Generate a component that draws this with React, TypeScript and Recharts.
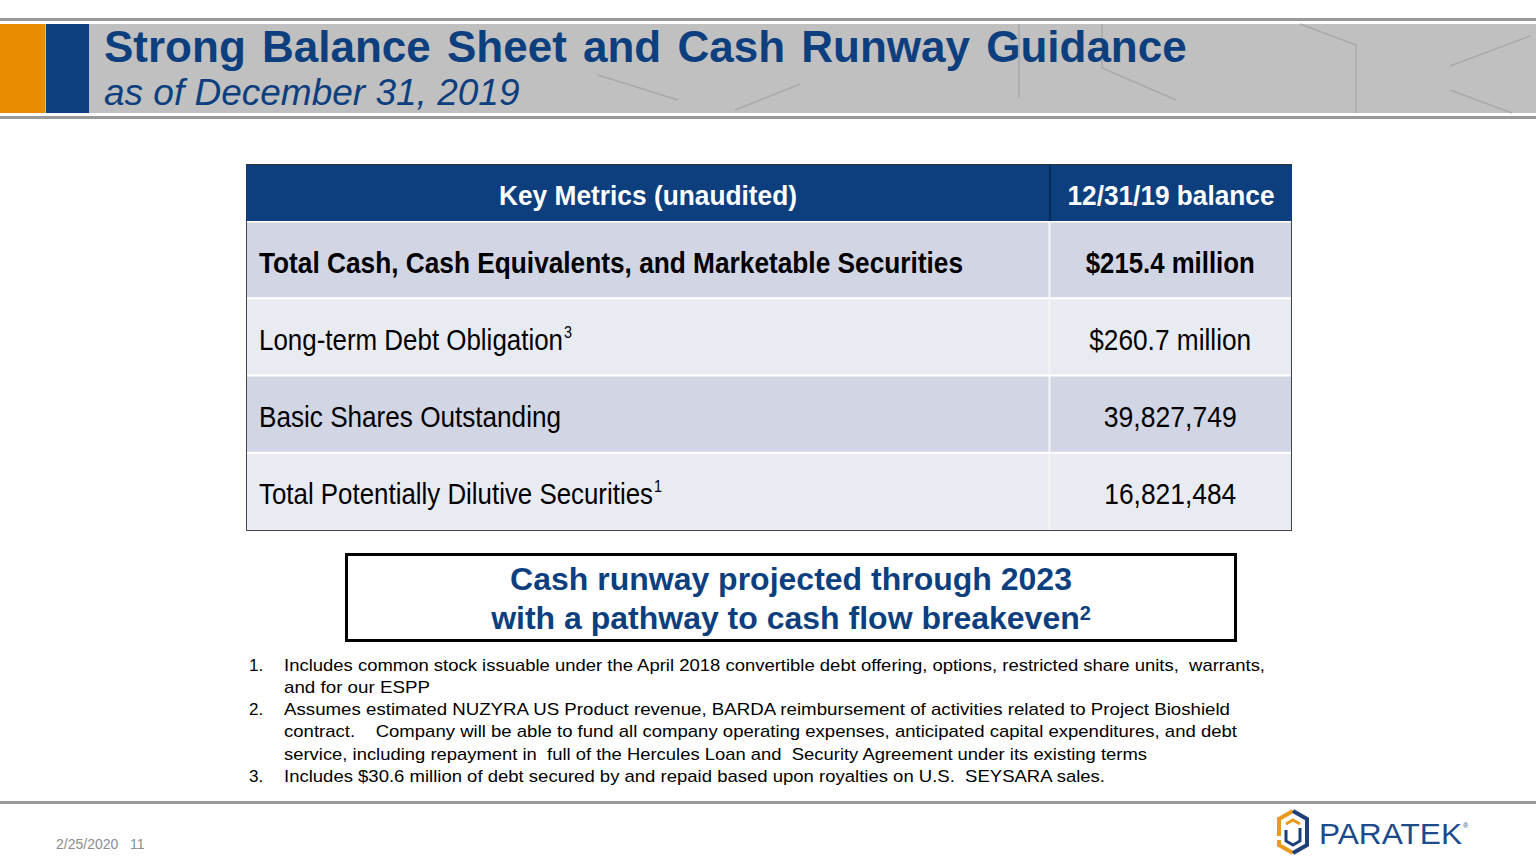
import React from 'react';
import { BarChart, Bar, XAxis, YAxis } from 'recharts';

const metrics = [
  'Total Cash, Cash Equivalents, and Marketable Securities',
  'Long-term Debt Obligation',
  'Basic Shares Outstanding',
  'Total Potentially Dilutive Securities',
];
const balances = ['$215.4 million', '$260.7 million', '39,827,749', '16,821,484'];
const metricNotes = ['', '3', '', '1'];
const boldRows = [true, false, false, false];

const headers = ['Key Metrics (unaudited)', '12/31/19 balance'];

// footnotes, wrapped as on the slide
const footnotes = [
  [
    'Includes common stock issuable under the April 2018 convertible debt offering, options, restricted share units,  warrants,',
    'and for our ESPP',
  ],
  [
    'Assumes estimated NUZYRA US Product revenue, BARDA reimbursement of activities related to Project Bioshield',
    'contract.    Company will be able to fund all company operating expenses, anticipated capital expenditures, and debt',
    'service, including repayment in  full of the Hercules Loan and  Security Agreement under its existing terms',
  ],
  ['Includes $30.6 million of debt secured by and repaid based upon royalties on U.S.  SEYSARA sales.'],
];

const rows = metrics.map((m, i) => ({
  metric: m,
  balance: balances[i],
  note: metricNotes[i],
  bold: boldRows[i],
  span: 1,
}));

const BLUE = '#0d3f7f';
const ARIAL = '"Liberation Sans", Arial, sans-serif';
const TABLE_W = 1046;
const SPLIT = 804; // left column width

// rendered widths of the condensed (Arial Narrow) texts
const metricWidths = [704, 304, 302, 394];
const balanceWidths = [169, 162, 133, 132];
const headerWidths = [298, 207];
const footWidths = [[981, 146], [946, 953, 863], [821]];

const RowShape = (props: any) => {
  const { x, y, width, height, payload, index } = props;
  const fill = index % 2 === 0 ? '#d1d5e4' : '#e9ebf2';
  const split = x + (width * SPLIT) / TABLE_W;
  const base = y + height / 2 + 13;
  const weight = payload.bold ? 'bold' : 'normal';
  return (
    <g>
      <rect x={x} y={y} width={width} height={height} fill={fill} />
      <line x1={x} x2={x + width} y1={y} y2={y} stroke="#ffffff" strokeWidth={index === 0 ? 3 : 2} />
      <line x1={split} x2={split} y1={y} y2={y + height} stroke="#f4f5f8" strokeWidth={2} />
      <text x={x + 12} y={base} fontFamily={ARIAL} fontSize={30} fontWeight={weight} fill="#000">
        <tspan textLength={metricWidths[index]} lengthAdjust="spacingAndGlyphs">
          {payload.metric}
        </tspan>
        {payload.note && (
          <tspan dx={1} dy={-12} fontSize={17} textLength={8} lengthAdjust="spacingAndGlyphs">
            {payload.note}
          </tspan>
        )}
      </text>
      <text
        x={(split + x + width) / 2}
        y={base}
        textAnchor="middle"
        fontFamily={ARIAL}
        fontSize={30}
        fontWeight={weight}
        fill="#000"
        textLength={balanceWidths[index]}
        lengthAdjust="spacingAndGlyphs"
      >
        {payload.balance}
      </text>
    </g>
  );
};

function HeaderBand() {
  return (
    <svg width={1536} height={125} style={{ position: 'absolute', left: 0, top: 0 }}>
      <rect x={0} y={18} width={1536} height={3} fill="#999" />
      <rect x={0} y={24} width={1536} height={89} fill="#c0c0c0" />
      <rect x={0} y={116} width={1536} height={3} fill="#999" />
      <g stroke="#a9a9a9" strokeWidth={1.5} fill="none">
        <polyline points="598,75 678,100" />
        <polyline points="735,110 800,84" />
        <polyline points="1019,24 1019,98" />
        <polyline points="1102,24 1102,68 1176,100" />
        <polyline points="1300,24 1356,45 1356,113" />
        <polyline points="1450,66 1530,36" />
        <polyline points="1450,90 1512,113" />
      </g>
      <rect x={0} y={24} width={45} height={89} fill="#ea8c00" />
      <rect x={46} y={24} width={43} height={89} fill={BLUE} />
      <text x={104} y={62} fontFamily={ARIAL} fontWeight="bold" fontSize={44} fill={BLUE} wordSpacing={4}>
        Strong Balance Sheet and Cash Runway Guidance
      </text>
      <text x={104} y={105} fontFamily={ARIAL} fontStyle="italic" fontSize={37} fill={BLUE}>
        as of December 31, 2019
      </text>
    </svg>
  );
}

function TableHeader() {
  return (
    <svg width={TABLE_W} height={58} style={{ position: 'absolute', left: 246, top: 164 }}>
      <rect x={0} y={0} width={TABLE_W} height={58} fill={BLUE} />
      <line x1={0} x2={TABLE_W} y1={0.5} y2={0.5} stroke="#333" strokeWidth={1} />
      <line x1={SPLIT} x2={SPLIT} y1={0} y2={58} stroke="#082a58" strokeWidth={2} />
      {headers.map((h, i) => (
        <text
          key={h}
          x={i === 0 ? SPLIT / 2 : (SPLIT + TABLE_W) / 2}
          y={41}
          textAnchor="middle"
          fontFamily={ARIAL}
          fontWeight="bold"
          fontSize={28}
          fill="#fff"
          textLength={headerWidths[i]}
          lengthAdjust="spacingAndGlyphs"
        >
          {h}
        </text>
      ))}
    </svg>
  );
}

function Footnotes() {
  let line = 0;
  return (
    <svg width={1100} height={140} style={{ position: 'absolute', left: 240, top: 650 }}>
      {footnotes.map((note, i) =>
        note.map((txt, j) => {
          const yy = 20.5 + 22.3 * line++;
          return (
            <g key={`${i}-${j}`}>
              {j === 0 && (
                <text x={9} y={yy} fontFamily={ARIAL} fontSize={17} fill="#000">
                  {i + 1}.
                </text>
              )}
              <text
                x={44}
                y={yy}
                fontFamily={ARIAL}
                fontSize={17}
                fill="#000"
                style={{ whiteSpace: 'pre' }}
                textLength={footWidths[i][j]}
                lengthAdjust="spacingAndGlyphs"
              >
                {txt}
              </text>
            </g>
          );
        })
      )}
    </svg>
  );
}

function Logo() {
  return (
    <svg width={220} height={50} style={{ position: 'absolute', left: 1274, top: 808 }}>
      <polyline points="19,3 5,11 5,28" fill="none" stroke="#ea9a1e" strokeWidth={4} />
      <polyline points="5,32 5,37 19,45" fill="none" stroke="#ea9a1e" strokeWidth={4} />
      <polyline points="12,16 19,12 26,16" fill="none" stroke="#ea9a1e" strokeWidth={3} />
      <polyline points="19,3 33,11 33,37 19,45" fill="none" stroke="#1d3f7a" strokeWidth={4} />
      <polyline points="26,20 26,33 19,37 12,33 12,22" fill="none" stroke="#1d3f7a" strokeWidth={3} />
      <text x={45} y={36} fontFamily={ARIAL} fontSize={30} fill="#1d4a8a" textLength={143} lengthAdjust="spacingAndGlyphs">
        PARATEK
      </text>
      <text x={189} y={20} fontFamily={ARIAL} fontSize={7} fill="#1d4a8a">
        ®
      </text>
    </svg>
  );
}

export default function App() {
  return (
    <div
      style={{
        position: 'absolute',
        left: 0,
        top: 0,
        width: 1536,
        height: 864,
        background: '#fff',
        overflow: 'hidden',
        fontFamily: ARIAL,
      }}
    >
      <HeaderBand />
      <TableHeader />

      {/* table body */}
      <div
        style={{
          position: 'absolute',
          left: 246,
          top: 221,
          width: TABLE_W,
          height: 310,
          borderLeft: '1px solid #444',
          borderRight: '1px solid #444',
          borderBottom: '1px solid #444',
          boxSizing: 'border-box',
        }}
      >
        <BarChart
          width={TABLE_W - 2}
          height={309}
          data={rows}
          layout="vertical"
          margin={{ top: 0, right: 0, bottom: 0, left: 0 }}
          barCategoryGap={0}
        >
          <XAxis type="number" domain={[0, 1]} hide />
          <YAxis type="category" dataKey="metric" hide />
          <Bar dataKey="span" shape={RowShape} isAnimationActive={false} />
        </BarChart>
      </div>

      {/* callout */}
      <div
        style={{
          position: 'absolute',
          left: 345,
          top: 553,
          width: 892,
          height: 89,
          border: '3px solid #000',
          boxSizing: 'border-box',
          textAlign: 'center',
          color: BLUE,
          fontWeight: 'bold',
          fontSize: 32,
          lineHeight: '39px',
          paddingTop: 4,
        }}
      >
        <div>Cash runway projected through 2023</div>
        <div>
          with a pathway to cash flow breakeven
          <sup style={{ fontSize: 20, verticalAlign: 'top', lineHeight: '28px' }}>2</sup>
        </div>
      </div>

      <Footnotes />

      <div style={{ position: 'absolute', left: 0, top: 801, width: 1536, height: 3, background: '#999' }} />
      <div style={{ position: 'absolute', left: 56, top: 836, fontSize: 14, color: '#8c8c8c', whiteSpace: 'pre' }}>
        2/25/2020   11
      </div>
      <Logo />
    </div>
  );
}
